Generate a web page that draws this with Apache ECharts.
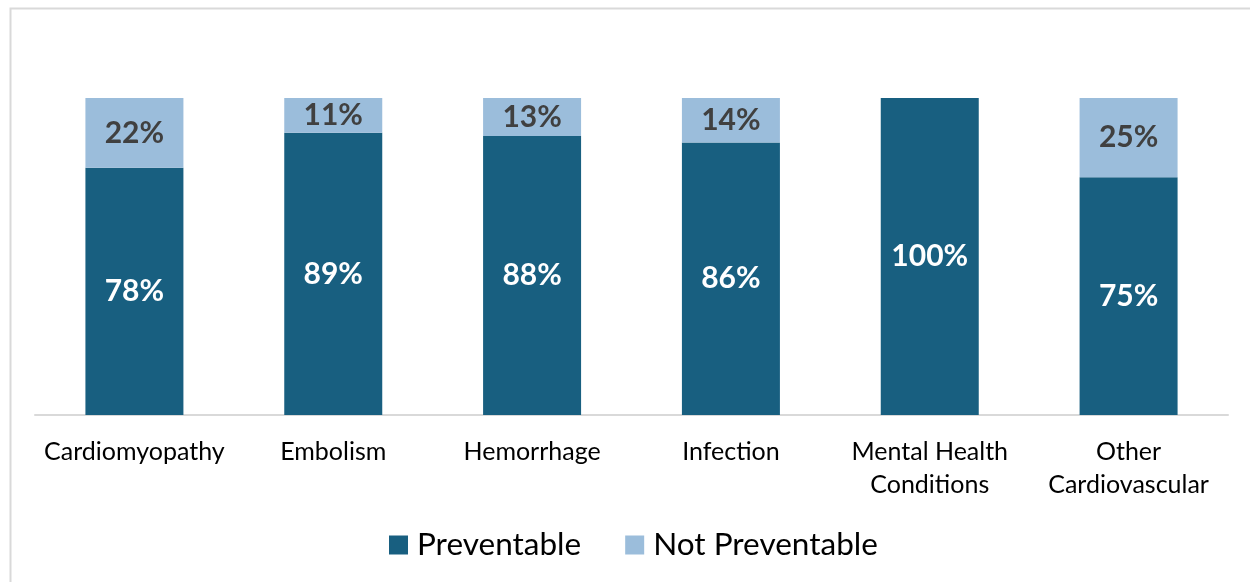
<!DOCTYPE html>
<html>
<head>
<meta charset="utf-8">
<style>
  html, body { margin: 0; padding: 0; background: #ffffff; }
  #chart { width: 1250px; height: 582px; }
</style>
<script src="https://cdn.jsdelivr.net/npm/echarts@6/dist/echarts.min.js"></script>
</head>
<body>
<div id="chart"></div>
<script>
// Causes of pregnancy-related death, share judged preventable vs. not preventable
const categories = ['Cardiomyopathy', 'Embolism', 'Hemorrhage', 'Infection', 'Mental Health\nConditions', 'Other\nCardiovascular'];
const preventable = [78, 89, 88, 86, 100, 75];
const notPreventable = [22, 11, 13, 14, 0, 25];
const seriesNames = ['Preventable', 'Not Preventable'];

const FONT = 'Lato, "Open Sans", "Liberation Sans", sans-serif';
const DARK = '#185f80';
const LIGHT = '#9bbddb';

const chart = echarts.init(document.getElementById('chart'), null, { renderer: 'canvas' });

chart.setOption({
  animation: false,
  backgroundColor: '#ffffff',
  graphic: [{
    type: 'rect',
    left: 8, top: 6,
    shape: { width: 1300, height: 700 },
    style: { fill: 'none', stroke: '#d9d9d9', lineWidth: 2 },
    silent: true
  }],
  grid: { left: 35, right: 22, top: 98, bottom: 167, containLabel: false },
  legend: {
    left: 384, top: 524,
    itemWidth: 19, itemHeight: 19,
    itemGap: 44,
    icon: 'rect',
    textStyle: { fontFamily: FONT, fontSize: 31.5, color: '#000000', padding: [0, 0, 0, 4] },
    data: seriesNames
  },
  xAxis: {
    type: 'category',
    data: categories,
    axisLine: { lineStyle: { color: '#d9d9d9', width: 2 } },
    axisTick: { show: false },
    axisLabel: {
      interval: 0,
      margin: 20,
      fontFamily: FONT, fontSize: 25, color: '#000000',
      lineHeight: 33
    }
  },
  yAxis: {
    type: 'value', min: 0, max: 100,
    show: false,
    splitLine: { show: false }
  },
  series: [
    {
      name: seriesNames[0], type: 'bar', stack: 'total', barWidth: 98,
      data: preventable,
      itemStyle: { color: DARK },
      label: {
        show: true, position: 'inside',
        formatter: p => p.value > 0 ? p.value + '%' : '',
        fontFamily: FONT, fontSize: 30, fontWeight: 'bold', color: '#ffffff'
      }
    },
    {
      name: seriesNames[1], type: 'bar', stack: 'total', barWidth: 98,
      data: notPreventable,
      itemStyle: { color: LIGHT },
      label: {
        show: true, position: 'inside',
        formatter: p => p.value > 0 ? p.value + '%' : '',
        fontFamily: FONT, fontSize: 30, fontWeight: 'bold', color: '#404040'
      }
    }
  ]
});
</script>
</body>
</html>
